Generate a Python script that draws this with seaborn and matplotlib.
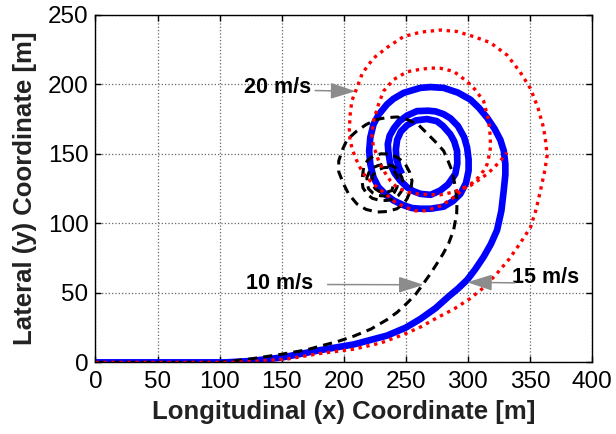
import numpy as np
import pandas as pd
import matplotlib
matplotlib.use("Agg")
import matplotlib.pyplot as plt
import seaborn as sns

# ---------------- data ----------------
# 10 m/s trajectory (black dashed)
x10 = [0, 60, 100, 125, 148.8, 170, 181, 195, 207.9, 222, 234.8, 243, 251, 258, 264.4, 270,
       275.2, 280, 284.5, 288.5, 291, 291.3, 290, 287.2, 284, 280.5, 274, 267.9, 260, 251, 243,
       234.8, 226.8, 218, 210, 202.6, 199, 196, 196, 199.8, 204, 210.6, 218, 226.8, 235, 242.9,
       248, 251, 254, 255, 253, 249.6, 244, 237.5, 230, 224, 219, 216, 214.7, 215.5, 218.7, 223,
       229.4, 235, 240.2, 244, 246.9, 248, 246.9, 244.5, 241.5, 237, 232.1, 227.5, 224, 220.5,
       218.7, 219, 220, 223.5, 228.1, 233, 237.5, 241, 242.9, 243.5, 242.9, 241, 238.8, 235.5,
       232, 228.5, 225.4, 223, 222.7, 223.5, 225.4, 228.5, 232.1, 235.5, 238.8, 240.5]
y10 = [0, 0, 0, 2.5, 5.7, 9, 11.7, 15, 18.8, 24, 30.7, 36, 42.6, 49, 56.9, 64,
       71.2, 78, 85.5, 95, 106.9, 116, 125.9, 137.9, 145, 152.1, 158.5, 164, 171, 174.8, 176.5,
       176, 174.8, 171, 166, 160, 153, 145, 137, 128.4, 121, 114, 110, 108.1, 108.5, 110.5,
       114, 117.6, 124, 130.7, 137, 142.6, 147, 149.8, 150, 148.6, 145, 140.2, 130.7, 125.5, 121.2, 118,
       116.4, 116.5, 117.6, 120, 123.6, 128, 133, 137, 140.2, 142, 142.6, 141.5, 140.2, 137,
       133, 128.5, 124.8, 121.8, 120, 119.6, 120, 122.5, 125.9, 130, 134.3, 137, 139, 140.3,
       140, 138.8, 136.6, 134, 130.7, 127.5, 124.8, 123, 122.4, 122.6, 123.6, 129]

# 15 m/s trajectory (blue solid)
x15 = [0, 60, 105, 125, 150, 181, 208, 235, 250, 261.7, 274, 284.5, 292, 299.4, 306, 312.7,
       318.5, 323.5, 327, 328.9, 330.2, 330.2, 329, 326.2, 321.5, 315.5, 309, 302, 292, 280.5,
       270, 261.7, 248.2, 240, 234.8, 228, 224, 221.4, 220.5, 221.4, 224, 228, 234.8, 240.2,
       248.2, 255, 261.7, 270, 280.5, 288, 294, 298.5, 300.6, 300.6, 299.4, 297, 292, 286,
       280.5, 274, 268, 259, 251, 245, 240.5, 237, 235.5, 236, 237.5, 241, 245.6, 251, 256,
       261.7, 270, 277.8, 284, 289.9, 291.5, 291.3, 289, 285.9, 280, 275, 267, 258, 251, 246,
       243, 242, 242.5, 244.5, 247]
y15 = [0, 0, 0, 1, 3.5, 8.8, 12.9, 19.3, 25, 31.2, 39, 47.4, 53, 59.3, 67, 75.9,
       85, 95, 109, 123.6, 135, 142.6, 152, 160, 168, 176, 183, 189, 194, 197.4,
       198, 197.4, 193.8, 189.5, 185.5, 178, 171.2, 161.7, 152, 142.6, 133, 126, 120, 116.4,
       113, 111, 110.5, 110.5, 112, 116, 121.2, 129, 137.9, 146, 154.5, 162, 170, 175.5,
       178.5, 180.5, 181, 180.7, 177.5, 173.5, 168.5, 163, 157, 151, 142.6, 136, 130.7, 126, 123.2,
       121.2, 120.5, 123.6, 128, 135.5, 143, 152.1, 159, 164, 170, 173.5, 175, 174, 170.5, 166,
       160, 153, 146, 140, 135.5]

# 20 m/s trajectory (red dotted)
x20 = [0, 60, 110, 130, 155, 181, 208, 230, 248, 262, 275, 289, 302, 313, 323.5, 333, 342,
       350.4, 355, 358.5, 362, 363.9, 362.5, 361, 356.5, 350.4, 342, 331.6, 318, 304.7, 291,
       277.8, 262, 248.2, 235, 224, 215, 210.6, 206.5, 205.2, 204.5, 205, 207, 210, 213.5, 217.3,
       225.4, 233.5, 241.5, 249.6, 257.7, 265, 272.4, 279, 285, 291.3, 296.2, 304.2, 309, 312.7,
       315.5, 316.8, 318.3, 318, 316.8, 312.7, 306, 299.4, 288.5, 278, 270, 260, 251, 240.2, 232,
       228, 224, 222.7, 224, 225.4, 228.1, 232.1, 237.5, 242.9, 251, 259, 268, 277.8, 288.1,
       295.5, 302, 308.5, 315.5, 321, 326.2, 331.6]
y20 = [0, 0, 0, 0.8, 2.5, 6.4, 9.5, 14, 20, 25.5, 32, 38.5, 46, 54, 64, 74, 85.5,
       97, 110, 123.6, 138, 149, 160, 168.8, 183, 197, 209, 221, 230, 234.3, 238,
       239, 237.5, 234.3, 226.5, 218.8, 208, 197.4, 188, 178.4, 168, 160, 153, 146, 139.5, 134,
       127.1, 121.2, 115.2, 111.6, 109, 109, 110.8, 113, 116.5, 120.5, 124.8, 129.5, 133.5, 137.9,
       142.5, 147.4, 155, 163, 173.6, 187.9, 196, 202, 209.3, 211.5, 211.7, 210.5, 209, 203.4, 195,
       185.5, 173.6, 164, 154.5, 152.1, 145, 137.9, 130.7, 125.9, 122.4, 121.2, 120.7, 120.5, 122.4,
       125, 127.1, 131, 135.5, 140, 145, 150.9]

speed_labels = ["10 m/s", "15 m/s", "20 m/s"]
label_xy = [(148, 56.4), (363, 60.7), (147, 197.5)]
arrow_tail = [(187, 56.0), (338, 57.2), (177, 195.5)]
arrow_head = [(264.4, 55.8), (299.4, 57.6), (209.5, 195.0)]

x_ticks = [0, 50, 100, 150, 200, 250, 300, 350, 400]
y_ticks = [0, 50, 100, 150, 200, 250]
x_label = "Longitudinal (x) Coordinate [m]"
y_label = "Lateral (y) Coordinate [m]"

# ---------------- styling ----------------
sns.set_style("ticks")
plt.rcParams["font.family"] = ["Liberation Sans", "DejaVu Sans"]

fig = plt.figure(figsize=(6.16, 4.34), dpi=100)
ax = fig.add_axes([0.155, 0.165, 0.806, 0.801])

df10 = pd.DataFrame({"x": x10, "y": y10})
df15 = pd.DataFrame({"x": x15, "y": y15})
df20 = pd.DataFrame({"x": x20, "y": y20})

sns.lineplot(data=df15, x="x", y="y", sort=False, estimator=None, ax=ax,
             color="#0000ff", linewidth=4.8, solid_joinstyle="round", solid_capstyle="butt")
sns.lineplot(data=df10, x="x", y="y", sort=False, estimator=None, ax=ax,
             color="black", linewidth=2.2, linestyle=(0, (3.0, 2.0)))
sns.lineplot(data=df20, x="x", y="y", sort=False, estimator=None, ax=ax,
             color="#ff0000", linewidth=2.4, linestyle=(0, (1, 1.4)))

ax.set_xlim(0, 400)
ax.set_ylim(0, 250)
ax.set_xticks(x_ticks)
ax.set_yticks(y_ticks)
ax.grid(True, linestyle=":", color="#666666", linewidth=0.9)
ax.tick_params(direction="in", length=4, width=1, top=True, right=True,
               labelsize=17.5, colors="black")
ax.tick_params(axis="x", pad=6)
ax.tick_params(axis="y", pad=5)
for s in ax.spines.values():
    s.set_visible(True)
    s.set_linewidth(1.0)
    s.set_color("black")

ax.set_xlabel(x_label, fontsize=18.5, fontweight="bold", color="#222222", labelpad=5)
ax.set_ylabel(y_label, fontsize=18.5, fontweight="bold", color="#222222", labelpad=8)

for lab, (tx, ty), tail, head in zip(speed_labels, label_xy, arrow_tail, arrow_head):
    ax.text(tx, ty, lab, fontsize=15.5, fontweight="bold", ha="center", va="center", color="black")
    ax.annotate("", xy=head, xytext=tail,
                arrowprops=dict(arrowstyle="-|>,head_length=1.4,head_width=0.45",
                                mutation_scale=11, color="#8c8c8c", lw=1.1,
                                shrinkA=0, shrinkB=0))

fig.savefig("out.png", dpi=100)
